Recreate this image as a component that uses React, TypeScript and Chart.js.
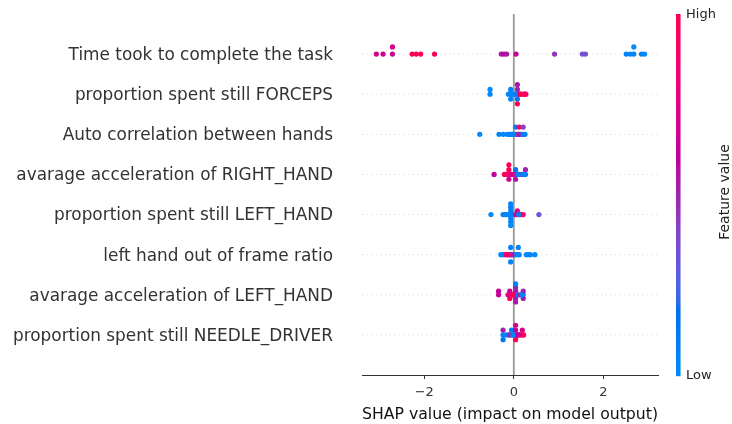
import React, { useEffect, useRef } from "react";
import { Chart, registerables } from "chart.js";

Chart.register(...registerables);

// Feature names, top row first
const features = [
  "Time took to complete the task",
  "proportion spent still FORCEPS",
  "Auto correlation between hands",
  "avarage acceleration of RIGHT_HAND",
  "proportion spent still LEFT_HAND",
  "left hand out of frame ratio",
  "avarage acceleration of LEFT_HAND",
  "proportion spent still NEEDLE_DRIVER",
];

// SHAP values and normalised feature values (0 = low, 1 = high) per feature
const shapTime = [-3.07, -2.92, -2.71, -2.71, -2.27, -2.18, -2.08, -1.77, -0.28, -0.22, -0.16, 0.05, 0.91, 1.53, 1.6, 2.51, 2.6, 2.68, 2.68, 2.85, 2.92];
const valTime = [0.7, 0.68, 0.68, 0.7, 1.0, 0.98, 1.0, 0.97, 0.55, 0.58, 0.55, 0.62, 0.45, 0.35, 0.33, 0.05, 0.03, 0.05, 0.0, 0.04, 0.02];

const shapForceps = [-0.53, -0.53, -0.07, -0.07, -0.07, 0.08, 0.08, 0.08, 0.08, 0.08, 0.17, 0.27, -0.12, -0.02, 0.02, 0.05, 0.12, 0.22, 0.14, -0.04, 0.25];
const valForceps = [0.02, 0.0, 0.03, 0.05, 0.02, 0.1, 0.5, 0.15, 0.55, 1.0, 1.0, 0.95, 0.05, 0.0, 0.08, 0.05, 0.4, 0.8, 1.0, 0.05, 0.9];

const shapAuto = [-0.76, -0.33, -0.24, -0.15, -0.1, -0.05, 0.0, 0.04, 0.04, 0.12, 0.12, 0.21, 0.21, 0.08, 0.16, 0.25, -0.08, -0.02, 0.02, 0.18, 0.1];
const valAuto = [0.02, 0.05, 0.03, 0.05, 0.02, 0.05, 0.08, 0.5, 0.1, 1.0, 0.95, 0.1, 0.4, 0.75, 1.0, 0.1, 0.03, 0.05, 0.05, 0.05, 0.5];

const shapRightAcc = [-0.44, -0.21, -0.11, -0.11, -0.11, -0.11, 0.04, 0.04, 0.04, 0.19, 0.26, 0.26, -0.15, -0.05, 0.0, 0.08, 0.12, -0.08, 0.1, 0.22, -0.17];
const valRightAcc = [0.62, 1.0, 1.0, 1.0, 0.7, 1.0, 0.05, 0.15, 0.55, 0.5, 0.1, 0.5, 0.75, 1.0, 0.72, 0.1, 0.45, 0.7, 0.05, 0.05, 0.95];

const shapLeftStill = [-0.51, -0.24, -0.16, -0.07, -0.07, -0.07, -0.07, -0.07, -0.07, -0.07, 0.08, 0.08, 0.21, 0.56, -0.2, -0.1, -0.03, 0.04, 0.13, 0.16, 0.11];
const valLeftStill = [0.0, 0.05, 0.05, 0.0, 0.05, 0.02, 0.08, 0.03, 0.06, 0.0, 0.68, 0.7, 0.9, 0.3, 0.05, 0.03, 0.05, 0.7, 0.75, 0.95, 0.05];

const shapLeftFrame = [-0.29, -0.2, -0.14, -0.07, -0.07, -0.07, -0.02, 0.1, 0.1, 0.28, 0.37, 0.47, -0.25, -0.17, -0.1, 0.02, 0.05, 0.12, 0.33, -0.04, -0.12];
const valLeftFrame = [0.0, 1.0, 0.88, 0.55, 0.05, 0.05, 0.5, 0.05, 0.05, 0.0, 0.02, 0.0, 0.05, 0.8, 0.05, 0.05, 0.03, 0.05, 0.02, 0.5, 0.85];

const shapLeftAcc = [-0.34, -0.34, -0.09, -0.09, -0.09, 0.04, 0.04, 0.04, 0.04, 0.04, 0.04, 0.21, 0.21, 0.21, -0.13, -0.05, 0.0, 0.09, 0.14, 0.18, -0.02];
const valLeftAcc = [0.65, 0.63, 0.72, 0.7, 1.0, 0.1, 0.55, 0.5, 0.5, 0.55, 0.05, 0.1, 0.5, 0.5, 0.75, 0.78, 0.72, 0.08, 0.5, 0.05, 1.0];

const shapNeedle = [-0.24, -0.24, -0.24, -0.05, -0.05, 0.04, 0.04, 0.04, 0.04, 0.19, 0.19, -0.18, -0.12, -0.09, 0.0, 0.08, 0.12, 0.15, 0.22, -0.02, 0.1];
const valNeedle = [0.05, 0.5, 0.15, 0.05, 0.1, 0.92, 0.6, 1.0, 0.7, 1.0, 0.72, 0.05, 0.08, 0.5, 0.05, 1.0, 0.78, 1.0, 0.95, 0.05, 0.6];

const shapRows = [shapTime, shapForceps, shapAuto, shapRightAcc, shapLeftStill, shapLeftFrame, shapLeftAcc, shapNeedle];
const valRows = [valTime, valForceps, valAuto, valRightAcc, valLeftStill, valLeftFrame, valLeftAcc, valNeedle];

const xTicks = [-2, 0, 2];
const xMin = -3.39;
const xMax = 3.22;

const FONT = "'DejaVu Sans', sans-serif";

// shap's red_blue colormap (interpolated in LCh space)
function lch2rgb(L: number, C: number, H: number): [number, number, number] {
  const a = C * Math.cos(H);
  const b = C * Math.sin(H);
  const fy = (L + 16) / 116;
  const fx = fy + a / 500;
  const fz = fy - b / 200;
  const eps = 216 / 24389;
  const k = 24389 / 27;
  const xr = fx ** 3 > eps ? fx ** 3 : (116 * fx - 16) / k;
  const yr = L > k * eps ? fy ** 3 : L / k;
  const zr = fz ** 3 > eps ? fz ** 3 : (116 * fz - 16) / k;
  const X = xr * 0.95047, Y = yr, Z = zr * 1.08883;
  const lin = [
    3.2404542 * X - 1.5371385 * Y - 0.4985314 * Z,
    -0.969266 * X + 1.8760108 * Y + 0.041556 * Z,
    0.0556434 * X - 0.2040259 * Y + 1.0572252 * Z,
  ];
  const g = lin.map((v) => {
    const c = v <= 0.0031308 ? 12.92 * v : 1.055 * Math.pow(Math.max(v, 0), 1 / 2.4) - 0.055;
    return Math.round(Math.min(1, Math.max(0, c)) * 255);
  });
  return [g[0], g[1], g[2]];
}

function redBlue(t: number): string {
  const tt = Math.min(1, Math.max(0, t));
  const L = tt < 0.5 ? 54 - 28 * tt : 40 + 28 * (tt - 0.5);
  const C = 70 + 20 * tt;
  const H = 4.6588 + (0.35470565 + 2 * Math.PI - 4.6588) * tt;
  const [r, g, b] = lch2rgb(L, C, H);
  return `rgb(${r},${g},${b})`;
}

// shap beeswarm vertical jitter
function beeswarm(shaps: number[], rowPos: number): number[] {
  const N = shaps.length;
  const nbins = 100;
  const mn = Math.min(...shaps);
  const mx = Math.max(...shaps);
  const quant = shaps.map((v) => Math.round((nbins * (v - mn)) / (mx - mn + 1e-8)));
  const inds = shaps.map((_, i) => i).sort((a, b) => quant[a] - quant[b] || a - b);
  let layer = 0;
  let last = -1;
  const ys = new Array(N).fill(0);
  for (const ind of inds) {
    if (quant[ind] !== last) layer = 0;
    ys[ind] = Math.ceil(layer / 2) * ((layer % 2) * 2 - 1);
    layer += 1;
    last = quant[ind];
  }
  const m = Math.max(...ys.map((y) => y + 1));
  return ys.map((y) => rowPos + (y * 0.9 * 0.4) / m);
}

const decorPlugin = {
  id: "shapDecor",
  beforeDatasetsDraw(chart: any) {
    const { ctx, chartArea, scales } = chart;
    const xs = scales.x;
    const ys = scales.y;
    ctx.save();
    ctx.strokeStyle = "#cccccc";
    ctx.lineWidth = 0.8;
    ctx.setLineDash([1, 3.6]);
    features.forEach((_, i) => {
      const py = ys.getPixelForValue(i);
      ctx.beginPath();
      ctx.moveTo(chartArea.left, py);
      ctx.lineTo(chartArea.right, py);
      ctx.stroke();
    });
    ctx.setLineDash([]);
    const px = xs.getPixelForValue(0);
    ctx.strokeStyle = "#999999";
    ctx.lineWidth = 1.8;
    ctx.beginPath();
    ctx.moveTo(px, chartArea.top);
    ctx.lineTo(px, chartArea.bottom);
    ctx.stroke();
    ctx.restore();
  },
  afterDraw(chart: any) {
    const { ctx, chartArea } = chart;
    const x0 = chartArea.right + 18;
    const w = 4.5;
    const top = chartArea.top;
    const bottom = chartArea.bottom + 1;
    const h = bottom - top;
    ctx.save();
    const steps = Math.ceil(h);
    for (let i = 0; i < steps; i++) {
      const t = 1 - (i + 0.5) / steps;
      ctx.fillStyle = redBlue(t);
      ctx.fillRect(x0, top + i, w, 1.2);
    }
    ctx.fillStyle = "#222222";
    ctx.font = `13px ${FONT}`;
    ctx.textAlign = "left";
    ctx.textBaseline = "middle";
    ctx.fillText("High", x0 + w + 5.5, top + 1);
    ctx.fillText("Low", x0 + w + 5.5, bottom);
    ctx.translate(725, (top + bottom) / 2 - 3);
    ctx.rotate(-Math.PI / 2);
    ctx.textAlign = "center";
    ctx.font = `14px ${FONT}`;
    ctx.fillText("Feature value", 0, 0);
    ctx.restore();
  },
};

export default function App() {
  const ref = useRef<HTMLCanvasElement | null>(null);

  useEffect(() => {
    if (!ref.current) return;
    const n = features.length;
    const datasets = features.map((f, i) => {
      const pos = n - 1 - i;
      const yv = beeswarm(shapRows[i], pos);
      return {
        label: f,
        data: shapRows[i].map((x, j) => ({ x, y: yv[j] })),
        backgroundColor: valRows[i].map(redBlue),
        pointRadius: 2.6,
        pointHoverRadius: 2.6,
        borderWidth: 0,
      };
    });
    const chart = new Chart(ref.current, {
      type: "scatter",
      data: { datasets },
      plugins: [decorPlugin],
      options: {
        animation: false,
        responsive: false,
        devicePixelRatio: 1,
        layout: { padding: { left: 0, right: 74, top: 14, bottom: 0 } },
        plugins: { legend: { display: false }, tooltip: { enabled: false } },
        scales: {
          x: {
            type: "linear",
            min: xMin,
            max: xMax,
            afterBuildTicks: (s: any) => {
              s.ticks = xTicks.map((v) => ({ value: v }));
            },
            ticks: {
              callback: (v: any) => String(v).replace("-", "\u2212"),
              font: { family: FONT, size: 13 },
              color: "#333333",
              padding: 6,
              maxRotation: 0,
            },
            grid: {
              display: true,
              drawOnChartArea: false,
              drawTicks: true,
              tickLength: 4,
              tickColor: "#333333",
              tickWidth: 1,
            },
            border: { display: true, color: "#333333", width: 1 },
            title: {
              display: true,
              text: "SHAP value (impact on model output)",
              font: { family: FONT, size: 15.7 },
              color: "#111111",
              padding: { top: 2, bottom: 0 },
            },
            afterFit: (s: any) => {
              s.height = 49;
              s.paddingLeft = 0;
              s.paddingRight = 0;
            },
          },
          y: {
            type: "linear",
            min: -1,
            max: 8,
            afterBuildTicks: (s: any) => {
              s.ticks = features.map((_, i) => ({ value: i }));
            },
            ticks: {
              callback: (v: any) => features[n - 1 - Number(v)],
              font: { family: FONT, size: 16.9 },
              color: "#333333",
              padding: 29,
              autoSkip: false,
              labelOffset: 1.5,
            },
            grid: { display: false, drawTicks: false },
            border: { display: false },
            afterFit: (s: any) => {
              s.width = 362;
              s.paddingTop = 0;
              s.paddingBottom = 0;
            },
          },
        },
      },
    } as any);
    return () => chart.destroy();
  }, []);

  return (
    <div style={{ position: "fixed", left: 0, top: 0, width: 732, height: 424, background: "#fff" }}>
      <canvas ref={ref} width={732} height={424} style={{ display: "block", width: 732, height: 424 }} />
    </div>
  );
}
